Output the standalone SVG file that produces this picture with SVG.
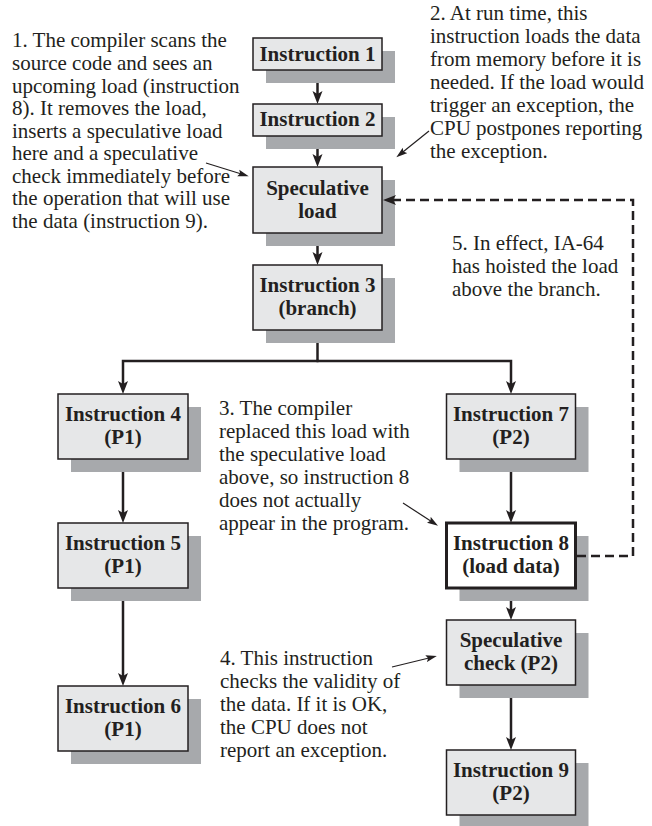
<svg xmlns="http://www.w3.org/2000/svg" width="652" height="826" viewBox="0 0 652 826">
<style>
.sh{fill:#a7a9ac}
.bx{fill:#e6e7e8;stroke:#231f20;stroke-width:1.5}
.bx8{fill:#ffffff;stroke:#231f20;stroke-width:3}
.lb{font-family:"Liberation Serif","Times New Roman",serif;font-weight:bold;font-size:21px;fill:#231f20;text-anchor:middle}
.an{font-family:"Liberation Serif","Times New Roman",serif;font-size:21px;fill:#231f20}
.cn{fill:none;stroke:#231f20;stroke-width:2.5}
.ds{fill:none;stroke:#231f20;stroke-width:2.5;stroke-dasharray:9 5}
.pt{fill:none;stroke:#231f20;stroke-width:1.2}
</style>
<defs>
<marker id="ah" markerUnits="userSpaceOnUse" markerWidth="14" markerHeight="12" refX="7" refY="6" orient="auto">
<path d="M0,1 L13,6 L0,11 L3,6 z" fill="#231f20"/>
</marker>
<marker id="as" markerUnits="userSpaceOnUse" markerWidth="12" markerHeight="8" refX="5" refY="4" orient="auto">
<path d="M0,0.5 L11,4 L0,7.5 L2,4 z" fill="#231f20"/>
</marker>
</defs>

<g id="connectors">
<path class="cn" d="M317.5,70 V98" marker-end="url(#ah)"/>
<path class="cn" d="M317.5,136 V161" marker-end="url(#ah)"/>
<path class="cn" d="M317.5,233 V259" marker-end="url(#ah)"/>
<path class="cn" d="M317.5,330 V361"/>
<path class="cn" d="M318.5,361 H123 V388" marker-end="url(#ah)"/>
<path class="cn" d="M316.5,361 H511 V388" marker-end="url(#ah)"/>
<path class="cn" d="M123,459 V517" marker-end="url(#ah)"/>
<path class="cn" d="M123,588 V680" marker-end="url(#ah)"/>
<path class="cn" d="M511,459 V517" marker-end="url(#ah)"/>
<path class="cn" d="M511,589 V614" marker-end="url(#ah)"/>
<path class="cn" d="M511,685 V744" marker-end="url(#ah)"/>
<path class="pt" d="M206,163 L243,174.5" marker-end="url(#as)"/>
<path class="pt" d="M429,131 L401,153.5" marker-end="url(#as)"/>
<path class="pt" d="M403,503 L433,522.5" marker-end="url(#as)"/>
<path class="pt" d="M392,667 L431,657.5" marker-end="url(#as)"/>
</g>

<g id="n1">
<rect class="sh" x="266" y="51" width="129" height="32"/>
<rect class="bx" x="253" y="38" width="129" height="32"/>
<text class="lb" x="317.5" y="61">Instruction 1</text>
</g>
<g id="n2">
<rect class="sh" x="266" y="117" width="129" height="32"/>
<rect class="bx" x="253" y="104" width="129" height="32"/>
<text class="lb" x="317.5" y="126">Instruction 2</text>
</g>
<g id="specload">
<rect class="sh" x="266" y="180" width="129" height="66"/>
<rect class="bx" x="253" y="167" width="129" height="66"/>
<text class="lb" x="317.5" y="195">Speculative</text>
<text class="lb" x="317.5" y="218">load</text>
</g>
<g id="n3">
<rect class="sh" x="266" y="278" width="129" height="65"/>
<rect class="bx" x="253" y="265" width="129" height="65"/>
<text class="lb" x="317.5" y="292">Instruction 3</text>
<text class="lb" x="317.5" y="315">(branch)</text>
</g>
<g id="n4">
<rect class="sh" x="71" y="407" width="130" height="65"/>
<rect class="bx" x="58" y="394" width="130" height="65"/>
<text class="lb" x="123" y="421">Instruction 4</text>
<text class="lb" x="123" y="444">(P1)</text>
</g>
<g id="n5">
<rect class="sh" x="71" y="536" width="130" height="65"/>
<rect class="bx" x="58" y="523" width="130" height="65"/>
<text class="lb" x="123" y="550">Instruction 5</text>
<text class="lb" x="123" y="573">(P1)</text>
</g>
<g id="n6">
<rect class="sh" x="71" y="699" width="130" height="65"/>
<rect class="bx" x="58" y="686" width="130" height="65"/>
<text class="lb" x="123" y="713">Instruction 6</text>
<text class="lb" x="123" y="736">(P1)</text>
</g>
<g id="n7">
<rect class="sh" x="459.5" y="407" width="129" height="65"/>
<rect class="bx" x="446.5" y="394" width="129" height="65"/>
<text class="lb" x="511" y="421">Instruction 7</text>
<text class="lb" x="511" y="444">(P2)</text>
</g>
<g id="n8">
<rect class="sh" x="459.5" y="536" width="129" height="65"/>
<rect class="bx8" x="446.5" y="523" width="129" height="65"/>
<text class="lb" x="511" y="550">Instruction 8</text>
<text class="lb" x="511" y="573">(load data)</text>
</g>
<g id="speccheck">
<rect class="sh" x="459.5" y="633" width="129" height="65"/>
<rect class="bx" x="446.5" y="620" width="129" height="65"/>
<text class="lb" x="511" y="647">Speculative</text>
<text class="lb" x="511" y="670">check (P2)</text>
</g>
<g id="n9">
<rect class="sh" x="459.5" y="763" width="129" height="65"/>
<rect class="bx" x="446.5" y="750" width="129" height="65"/>
<text class="lb" x="511" y="777">Instruction 9</text>
<text class="lb" x="511" y="800">(P2)</text>
</g>

<g id="dashed">
<path class="ds" d="M577,556 H633 V200 H389" marker-end="url(#ah)"/>
</g>

<g id="note1" class="an">
<text x="12" y="47">1. The compiler scans the</text>
<text x="12" y="70">source code and sees an</text>
<text x="12" y="92.5">upcoming load (instruction</text>
<text x="12" y="115">8). It removes the load,</text>
<text x="12" y="137.5">inserts a speculative load</text>
<text x="12" y="160">here and a speculative</text>
<text x="12" y="182.5">check immediately before</text>
<text x="12" y="205">the operation that will use</text>
<text x="12" y="228">the data (instruction 9).</text>
</g>
<g id="note2" class="an">
<text x="430" y="20">2. At run time, this</text>
<text x="430" y="43">instruction loads the data</text>
<text x="430" y="66">from memory before it is</text>
<text x="430" y="89">needed. If the load would</text>
<text x="430" y="112">trigger an exception, the</text>
<text x="430" y="135">CPU postpones reporting</text>
<text x="430" y="158">the exception.</text>
</g>
<g id="note3" class="an">
<text x="219" y="415">3. The compiler</text>
<text x="219" y="438">replaced this load with</text>
<text x="219" y="461">the speculative load</text>
<text x="219" y="484">above, so instruction 8</text>
<text x="219" y="507">does not actually</text>
<text x="219" y="530">appear in the program.</text>
</g>
<g id="note4" class="an">
<text x="220" y="665">4. This instruction</text>
<text x="220" y="688">checks the validity of</text>
<text x="220" y="711">the data. If it is OK,</text>
<text x="220" y="734">the CPU does not</text>
<text x="220" y="757">report an exception.</text>
</g>
<g id="note5" class="an">
<text x="452" y="250">5. In effect, IA-64</text>
<text x="452" y="273">has hoisted the load</text>
<text x="452" y="296">above the branch.</text>
</g>
</svg>
